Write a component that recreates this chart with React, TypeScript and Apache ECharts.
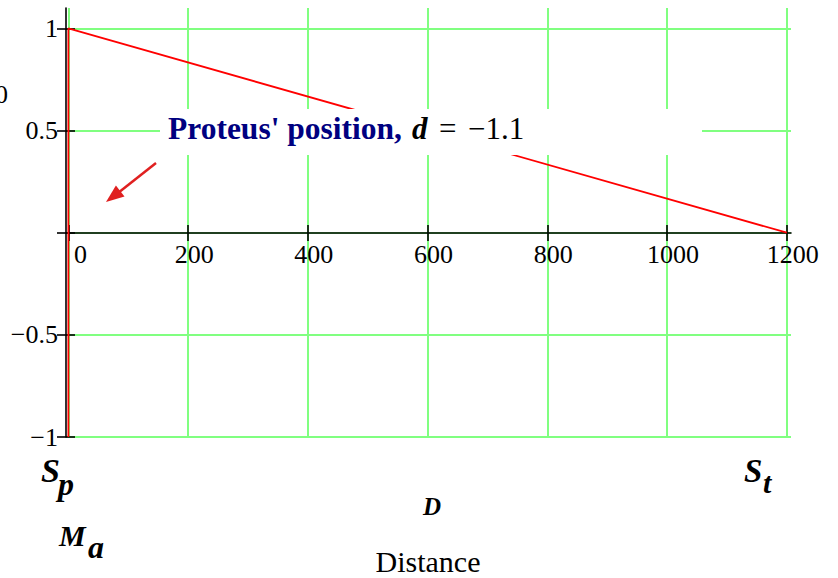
import React, { useEffect, useRef } from "react";
import * as echarts from "echarts";

const distance = [0, 0, 1200];
const magnitude = [-1, 1, 0];
const xTickValues = [0, 200, 400, 600, 800, 1000, 1200];
const yTickValues = [-1, -0.5, 0, 0.5, 1];
const yLabelValues = [-1, -0.5, 0.5, 1];
const annotationName = "Proteus' position,";
const annotationVar = "d";
const annotationEq = "=";
const annotationValue = "\u22121.1";

const SERIF = "Liberation Serif";

function fmtNum(v: number): string {
  return v < 0 ? "\u2212" + String(Math.abs(v)) : String(v);
}

export default function App() {
  const ref = useRef<HTMLDivElement>(null);
  useEffect(() => {
    document.body.style.margin = "0";
    if (!ref.current) return;
    const chart = echarts.init(ref.current, null, { renderer: "svg" });
    const gridGreen = "#80ff80";
    const black = { color: "#000", width: 1.6 };
    const xOffset = -204;
    const option: any = {
      animation: false,
      backgroundColor: "#ffffff",
      grid: { left: 66, right: 47, top: 8, bottom: 141 },
      xAxis: [
        {
          type: "value",
          position: "bottom",
          offset: xOffset,
          min: -4,
          max: 1207,
          axisLine: { show: true, onZero: false, lineStyle: black },
          axisTick: { show: true, length: 8, customValues: xTickValues, lineStyle: black },
          axisLabel: {
            customValues: xTickValues,
            margin: 8,
            formatter: (v: number) => (v === 0 ? "{z|0}" : "{n|" + fmtNum(v) + "}"),
            rich: {
              n: { fontFamily: SERIF, fontSize: 26, color: "#000", padding: [0, 0, 0, 12] },
              z: { fontFamily: SERIF, fontSize: 26, color: "#000", padding: [0, 0, 0, 24] },
            },
          },
          splitLine: { show: true, lineStyle: { color: gridGreen, width: 2 } },
        },
        {
          type: "value",
          position: "bottom",
          offset: xOffset,
          min: -4,
          max: 1207,
          axisLine: { show: false, onZero: false },
          axisTick: { show: true, inside: true, length: 8, customValues: xTickValues, lineStyle: black },
          axisLabel: { show: false },
          splitLine: { show: false },
        },
      ],
      yAxis: [
        {
          type: "value",
          position: "left",
          offset: 0,
          min: -1,
          max: 1.1,
          axisLine: { show: true, onZero: false, lineStyle: black },
          axisTick: { show: true, length: 9, customValues: yTickValues, lineStyle: black },
          axisLabel: {
            customValues: yLabelValues,
            margin: 8,
            fontFamily: SERIF,
            fontSize: 26,
            color: "#000",
            formatter: (v: number) => fmtNum(v),
          },
          splitLine: { show: true, lineStyle: { color: gridGreen, width: 2 } },
        },
        {
          type: "value",
          position: "left",
          offset: 0,
          min: -1,
          max: 1.1,
          axisLine: { show: false, onZero: false },
          axisTick: { show: true, inside: true, length: 9, customValues: yTickValues, lineStyle: black },
          axisLabel: { show: false },
          splitLine: { show: false },
        },
      ],
      series: [
        {
          type: "line",
          xAxisIndex: 0,
          yAxisIndex: 0,
          data: distance.map((d, i) => [d, magnitude[i]]),
          showSymbol: false,
          symbol: "none",
          lineStyle: { color: "#ff0000", width: 1.8 },
          z: 5,
        },
      ],
      graphic: [
        {
          type: "rect",
          shape: { x: 160, y: 109, width: 542, height: 46 },
          style: { fill: "#ffffff" },
          z: 100,
        },
        {
          type: "text",
          x: 168,
          y: 128,
          z: 101,
          style: { text: annotationName, verticalAlign: "middle", fontFamily: SERIF, fontSize: 31.5, fontWeight: "bold", fill: "#000080" },
        },
        {
          type: "text",
          x: 412,
          y: 128,
          z: 101,
          style: { text: annotationVar, verticalAlign: "middle", fontFamily: SERIF, fontSize: 31, fontWeight: "bold", fontStyle: "italic", fill: "#000" },
        },
        {
          type: "text",
          x: 439,
          y: 128,
          z: 101,
          style: { text: annotationEq, verticalAlign: "middle", fontFamily: SERIF, fontSize: 31, fill: "#000" },
        },
        {
          type: "text",
          x: 468,
          y: 128,
          z: 101,
          style: { text: annotationValue, verticalAlign: "middle", fontFamily: SERIF, fontSize: 31, fill: "#000" },
        },
        {
          type: "line",
          z: 101,
          shape: { x1: 156, y1: 163, x2: 118, y2: 193 },
          style: { stroke: "#e02020", lineWidth: 2.5 },
        },
        {
          type: "polygon",
          z: 101,
          shape: { points: [[106, 202], [124.5, 196.4], [115.9, 185.4]] },
          style: { fill: "#e02020" },
        },
        {
          type: "text",
          x: 8,
          y: 94,
          style: { text: "0", textAlign: "right", verticalAlign: "middle", fontFamily: SERIF, fontSize: 26, fill: "#000" },
        },
        {
          type: "text",
          x: 41,
          y: 470,
          style: { text: "S", verticalAlign: "middle", fontFamily: SERIF, fontSize: 34, fontWeight: "bold", fontStyle: "italic", fill: "#000" },
        },
        {
          type: "text",
          x: 58,
          y: 484,
          style: { text: "p", verticalAlign: "middle", fontFamily: SERIF, fontSize: 32, fontWeight: "bold", fontStyle: "italic", fill: "#000" },
        },
        {
          type: "text",
          x: 744,
          y: 471,
          style: { text: "S", verticalAlign: "middle", fontFamily: SERIF, fontSize: 33, fontWeight: "bold", fontStyle: "italic", fill: "#000" },
        },
        {
          type: "text",
          x: 763,
          y: 482,
          style: { text: "t", verticalAlign: "middle", fontFamily: SERIF, fontSize: 30, fontWeight: "bold", fontStyle: "italic", fill: "#000" },
        },
        {
          type: "text",
          x: 59,
          y: 535,
          style: { text: "M", verticalAlign: "middle", fontFamily: SERIF, fontSize: 30, fontWeight: "bold", fontStyle: "italic", fill: "#000" },
        },
        {
          type: "text",
          x: 88,
          y: 547,
          style: { text: "a", verticalAlign: "middle", fontFamily: SERIF, fontSize: 32, fontWeight: "bold", fontStyle: "italic", fill: "#000" },
        },
        {
          type: "text",
          x: 432,
          y: 506,
          style: { text: "D", textAlign: "center", verticalAlign: "middle", fontFamily: SERIF, fontSize: 25, fontWeight: "bold", fontStyle: "italic", fill: "#000" },
        },
        {
          type: "text",
          x: 428,
          y: 561,
          style: { text: "Distance", textAlign: "center", verticalAlign: "middle", fontFamily: SERIF, fontSize: 30, fill: "#000" },
        },
      ],
    };
    chart.setOption(option);
    return () => chart.dispose();
  }, []);
  return <div ref={ref} style={{ width: 838, height: 578 }} />;
}
